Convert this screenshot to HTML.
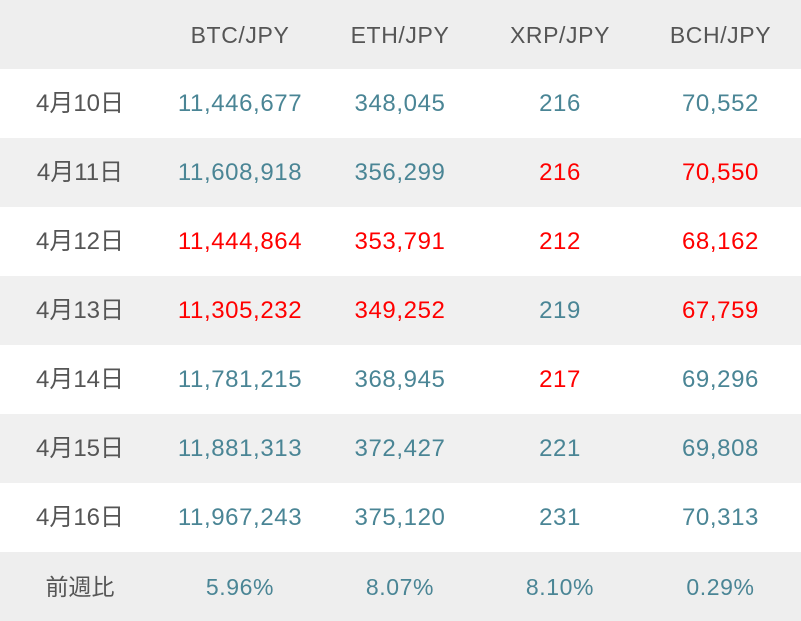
<!DOCTYPE html>
<html><head><meta charset="utf-8"><style>
html,body{margin:0;padding:0;width:801px;height:621px;overflow:hidden;background:#fff;}
table{border-collapse:collapse;width:801px;table-layout:fixed;font-family:"Liberation Sans","Noto Sans CJK JP",sans-serif;font-size:24px;}
td{height:69px;padding:0;text-align:center;color:#4a8595;line-height:24px;letter-spacing:0.6px;}
td:first-child{color:#555;letter-spacing:0;}
td:first-child span{position:relative;top:0px;}
tr.g td{background:#f0f0f0;}
tr.h td{color:#555;background:#eeeeee;font-size:23px;}
.r{color:#f00!important;}
</style></head><body>
<table>
<colgroup><col style="width:160px"><col style="width:160px"><col style="width:160px"><col style="width:160px"><col style="width:161px"></colgroup>
<tr class="h"><td></td><td>BTC/JPY</td><td>ETH/JPY</td><td>XRP/JPY</td><td>BCH/JPY</td></tr>
<tr><td><span>4月10日</span></td><td>11,446,677</td><td>348,045</td><td>216</td><td>70,552</td></tr>
<tr class="g"><td><span>4月11日</span></td><td>11,608,918</td><td>356,299</td><td class="r">216</td><td class="r">70,550</td></tr>
<tr><td><span>4月12日</span></td><td class="r">11,444,864</td><td class="r">353,791</td><td class="r">212</td><td class="r">68,162</td></tr>
<tr class="g"><td><span>4月13日</span></td><td class="r">11,305,232</td><td class="r">349,252</td><td>219</td><td class="r">67,759</td></tr>
<tr><td><span>4月14日</span></td><td>11,781,215</td><td>368,945</td><td class="r">217</td><td>69,296</td></tr>
<tr class="g"><td><span>4月15日</span></td><td>11,881,313</td><td>372,427</td><td>221</td><td>69,808</td></tr>
<tr><td><span>4月16日</span></td><td>11,967,243</td><td>375,120</td><td>231</td><td>70,313</td></tr>
<tr class="h"><td><span>前週比</span></td><td style="color:#4a8595">5.96%</td><td style="color:#4a8595">8.07%</td><td style="color:#4a8595">8.10%</td><td style="color:#4a8595">0.29%</td></tr>
</table>
</body></html>
